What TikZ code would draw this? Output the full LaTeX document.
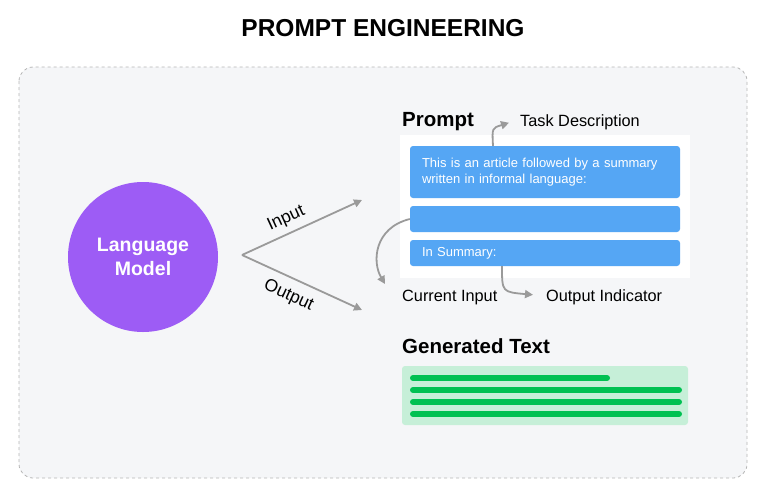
\documentclass[tikz,border=0pt]{standalone}
\usepackage{fontspec}
\setmainfont{Liberation Sans}
\usetikzlibrary{arrows.meta}

\definecolor{panelgray}{HTML}{F5F6F8}
\definecolor{dashgray}{HTML}{B5B5B5}
\definecolor{arrowgray}{HTML}{9A9A9A}
\definecolor{lmpurple}{HTML}{9D5CF5}
\definecolor{promptblue}{HTML}{55A6F4}
\definecolor{genbg}{HTML}{C6EFD8}
\definecolor{genbar}{HTML}{00C152}

\tikzset{
  conn/.style={draw=arrowgray, line width=1.8pt, -{Triangle[length=8pt,width=8pt]}},
  bluebox/.style={fill=promptblue, rounded corners=3pt, minimum width=270pt, inner sep=0pt},
  heading/.style={font=\fontsize{20.5}{24}\selectfont\bfseries, inner sep=0pt, anchor=base west},
  label/.style={font=\fontsize{16.3}{19}\selectfont, inner sep=0pt, anchor=base west},
  boxtext/.style={text width=246pt, align=left, text=white, font=\fontsize{13}{16}\selectfont},
  bar/.style={draw=genbar, line width=6pt, line cap=round}
}

\begin{document}
\begin{tikzpicture}[x=1pt, y=-1pt]
  \useasboundingbox (0,0) rectangle (766,496);

  % title
  \node[font=\fontsize{24.5}{28}\selectfont\bfseries] (title) at (383,28) {PROMPT ENGINEERING};

  % dashed panel
  \draw[fill=panelgray, draw=dashgray, dashed, line width=0.8pt, rounded corners=14pt]
    (19,67) rectangle (747,478);

  % language model
  \node[circle, fill=lmpurple, minimum size=150pt, text=white, align=center,
        font=\fontsize{19.5}{24}\selectfont\bfseries] (lm) at (143,257) {Language\\Model};

  % input / output arrows
  \coordinate (apex) at (242,255);
  \coordinate (intip) at (362,200);
  \coordinate (outtip) at (362,310);
  \draw[conn] (apex) -- (intip)
    node[pos=0.42, above=5pt, sloped, inner sep=1pt, font=\fontsize{17.5}{20}\selectfont] {Input};
  \draw[conn] (apex) -- (outtip)
    node[pos=0.45, below=8pt, sloped, inner sep=1pt, font=\fontsize{17.5}{20}\selectfont] {Output};

  % prompt
  \node[heading] (prompt) at (402,126) {Prompt};
  \fill[white] (400,135) rectangle (690,278);
  \node[bluebox, minimum height=52pt, boxtext] (task) at (545,172)
    {This is an article followed by a summary\\written in informal language:};
  \node[bluebox, minimum height=26pt] (current) at (545,219) {};
  \node[bluebox, minimum height=26pt, boxtext] (indicator) at (545,253) {In Summary:};

  \node[label] (taskdesc) at (520,126) {Task Description};
  \node[label] (curin) at (402,301) {Current Input};
  \node[label] (outind) at (546,301) {Output Indicator};

  \draw[conn] ([xshift=-52pt]task.north) .. controls (492,128) .. ([xshift=-11pt,yshift=-1pt]taskdesc.west);
  \draw[conn] (current.west) .. controls (374,228) and (372,262) .. ([xshift=-17pt,yshift=13pt]curin.west);
  \draw[conn] ([xshift=-43pt]indicator.south) .. controls (502,292) .. ([xshift=-13pt,yshift=2pt]outind.west);

  % generated text
  \node[heading] (gen) at (402,353) {Generated Text};
  \fill[genbg, rounded corners=3pt] (402,366) rectangle (688,425);
  \draw[bar] (413,378) -- (607,378);
  \foreach \y in {390,402,414}
    \draw[bar] (413,\y) -- (679,\y);
\end{tikzpicture}
\end{document}
